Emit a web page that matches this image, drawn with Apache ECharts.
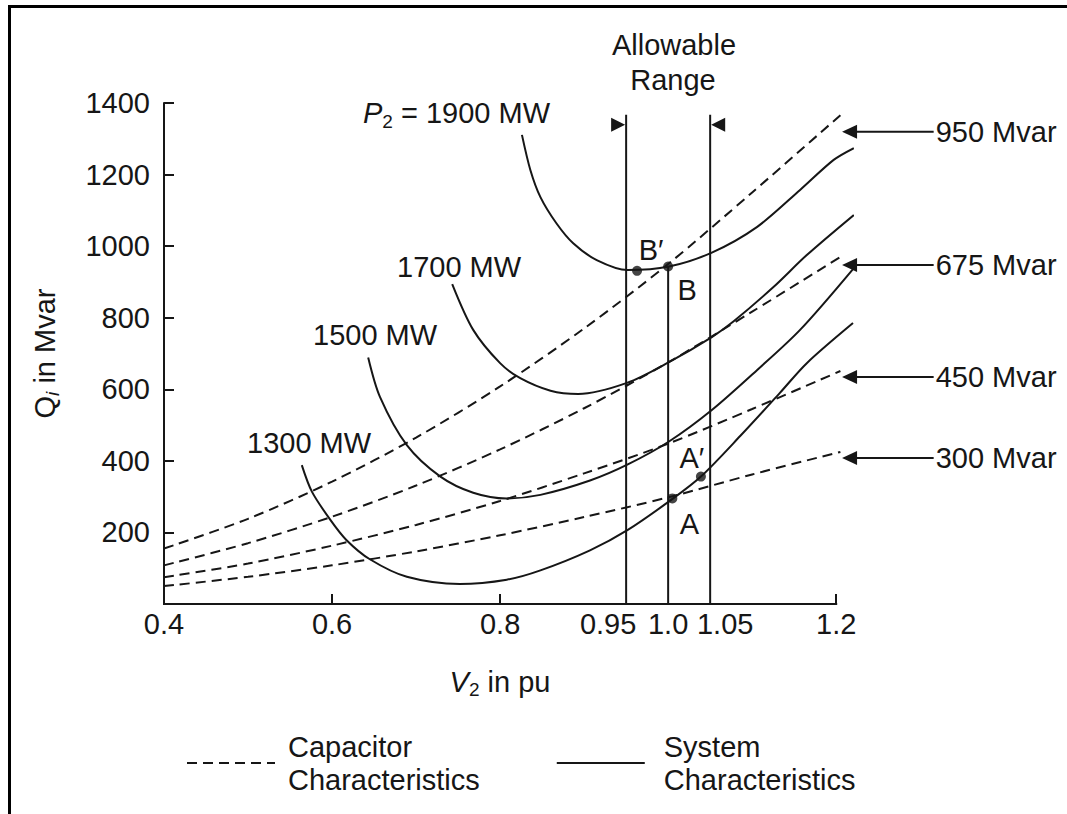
<!DOCTYPE html>
<html>
<head>
<meta charset="utf-8">
<script src="https://cdn.jsdelivr.net/npm/echarts@6/dist/echarts.min.js"></script>
<style>
html,body{margin:0;padding:0;background:#fff;}
#chart{width:1067px;height:814px;}
</style>
</head>
<body>
<div id="chart"></div>
<script>
// ---------- data ----------
const xTicks = [0.4, 0.6, 0.8, 0.95, 1.0, 1.05, 1.2];
const xTickMarks = [0.6, 0.8, 1.2];
const yTicks = [200, 400, 600, 800, 1000, 1200, 1400];
const xAxisEnd = 1.2;

// capacitor characteristics (dashed)
const capV   = [0.4, 0.5, 0.6, 0.7, 0.8, 0.9, 1.0, 1.1, 1.205];
const cap950 = [155, 238, 342, 465, 608, 770, 950, 1150, 1366];
const cap675 = [108, 170, 244, 331, 432, 547, 675, 817, 970];
const cap450 = [75, 113, 163, 221, 288, 365, 448, 545, 651];
const cap300 = [50, 76, 108, 147, 192, 243, 298, 362, 425];
const capLabels = ['950 Mvar', '675 Mvar', '450 Mvar', '300 Mvar'];
const capArrowQ = [1320, 947, 634, 408];

// system characteristics (solid)
const sys1900V = [0.826, 0.836, 0.848, 0.867, 0.887, 0.915, 0.952, 1.001, 1.052, 1.106, 1.157, 1.197, 1.221];
const sys1900Q = [1311, 1213, 1137, 1064, 1008, 961, 933, 943, 982, 1054, 1157, 1241, 1274];
const sys1700V = [0.743, 0.768, 0.8, 0.824, 0.86, 0.893, 0.951, 1.001, 1.052, 1.078, 1.125, 1.165, 1.221];
const sys1700Q = [894, 766, 673, 631, 596, 587, 618, 676, 746, 790, 885, 975, 1087];
const sys1500V = [0.643, 0.657, 0.689, 0.729, 0.768, 0.808, 0.848, 0.907, 0.952, 1.001, 1.052, 1.106, 1.157, 1.22];
const sys1500Q = [689, 579, 444, 356, 311, 295, 305, 345, 390, 454, 542, 654, 766, 936];
const sys1300V = [0.564, 0.576, 0.598, 0.617, 0.645, 0.689, 0.752, 0.808, 0.848, 0.907, 0.952, 1.006, 1.039, 1.086, 1.133, 1.165, 1.22];
const sys1300Q = [388, 314, 235, 179, 125, 76, 56, 68, 94, 150, 207, 295, 356, 470, 590, 673, 785];

// allowable range lines
const allowV   = [0.95, 1.0, 1.05];
const allowTop = [1367, 943, 1367];
const markerQ  = 1339;

// operating points
const pointNames = ['B\u2032', 'B', 'A', 'A\u2032'];
const pointV = [0.963, 1.0, 1.005, 1.039];
const pointQ = [931, 943, 295, 356];

// ---------- helpers ----------
const INK = '#161616';
const FONT = '"Liberation Sans", Arial, Helvetica, sans-serif';
const FS = 29;
const SUB = 19;
function pairs(xs, ys) { return xs.map((x, i) => [x, ys[i]]); }

const CAP_NAME = 'Capacitor\nCharacteristics';
const SYS_NAME = 'System\nCharacteristics';

function capSeries(vals) {
  return {
    type: 'line', name: CAP_NAME, data: pairs(capV, vals), smooth: 0.3,
    symbol: 'none', showSymbol: false, clip: false, silent: true,
    lineStyle: { color: INK, width: 2, type: [10, 6] }, itemStyle: { color: INK }
  };
}
function sysSeries(xs, ys) {
  return {
    type: 'line', name: SYS_NAME, data: pairs(xs, ys), smooth: 0.3,
    symbol: 'none', showSymbol: false, clip: false, silent: true,
    lineStyle: { color: INK, width: 2, type: 'solid' }, itemStyle: { color: INK }
  };
}

const pointLabelOffsets = [[14, -21], [19, 23], [17, 26], [-9, -19]];

const chart = echarts.init(document.getElementById('chart'), null, { renderer: 'svg' });
const option = {
  animation: false,
  backgroundColor: '#fff',
  textStyle: { fontFamily: FONT, color: INK },
  // x scale runs a little past 1.2 so the curve ends (which overshoot 1.2) are drawn
  grid: { left: 164, right: 214, top: 103, bottom: 210 },
  xAxis: {
    type: 'value', min: 0.4, max: 1.22,
    name: '{v|V}{s|2}{n| in pu}', nameLocation: 'middle', nameGap: 60,
    nameTextStyle: {
      padding: [0, 17, 0, 0],
      rich: {
        v: { fontSize: FS, fontStyle: 'italic', fontFamily: FONT, color: INK },
        s: { fontSize: SUB, fontFamily: FONT, color: INK, padding: [16, 0, 0, 0] },
        n: { fontSize: FS, fontFamily: FONT, color: INK }
      }
    },
    axisLine: { show: false },
    axisTick: { show: true, inside: true, length: 10, customValues: xTickMarks, lineStyle: { color: INK, width: 2 } },
    axisLabel: {
      customValues: xTicks, margin: 5, fontSize: FS, fontFamily: FONT, color: INK,
      formatter: function (v) {
        if (Math.abs(v - 0.95) < 1e-6) return '{l|0.95}';
        if (Math.abs(v - 1.05) < 1e-6) return '{r|1.05}';
        if (Math.abs(v - 1.0) < 1e-6) return '1.0';
        return String(v);
      },
      rich: {
        l: { fontSize: FS, fontFamily: FONT, color: INK, padding: [0, 36, 0, 0] },
        r: { fontSize: FS, fontFamily: FONT, color: INK, padding: [0, 0, 0, 30] }
      }
    },
    splitLine: { show: false }
  },
  yAxis: {
    type: 'value', min: 0, max: 1400, interval: 200,
    name: '{q|Q}{s|i}{n| in Mvar}', nameLocation: 'middle', nameGap: 102,
    nameTextStyle: {
      rich: {
        q: { fontSize: FS, fontFamily: FONT, color: INK },
        s: { fontSize: SUB, fontStyle: 'italic', fontFamily: FONT, color: INK, padding: [16, 0, 0, 0] },
        n: { fontSize: FS, fontFamily: FONT, color: INK }
      }
    },
    axisLine: { show: true, lineStyle: { color: INK, width: 2 } },
    axisTick: { show: true, inside: true, length: 10, customValues: yTicks, lineStyle: { color: INK, width: 2 } },
    axisLabel: {
      customValues: yTicks, margin: 14, fontSize: FS, fontFamily: FONT, color: INK,
      formatter: function (v) { return String(v); }
    },
    splitLine: { show: false }
  },
  legend: {
    left: 186, top: 730, padding: 0, orient: 'horizontal', selectedMode: false,
    itemWidth: 88, itemHeight: 14, itemGap: 76,
    itemStyle: { opacity: 0 },
    data: [
      { name: CAP_NAME, textStyle: { padding: [0, 0, 0, 8] } },
      { name: SYS_NAME, textStyle: { padding: [0, 0, 0, 14] } }
    ],
    textStyle: { fontSize: FS, fontFamily: FONT, color: INK, lineHeight: 33 }
  },
  series: [
    capSeries(cap950), capSeries(cap675), capSeries(cap450), capSeries(cap300),
    sysSeries(sys1900V, sys1900Q), sysSeries(sys1700V, sys1700Q),
    sysSeries(sys1500V, sys1500Q), sysSeries(sys1300V, sys1300Q),
    {
      // x axis line, from 0.4 to 1.2
      type: 'custom', clip: false, silent: true,
      data: [[0.4, 0, xAxisEnd]],
      renderItem: function (params, api) {
        const a = api.coord([api.value(0), api.value(1)]);
        const b = api.coord([api.value(2), api.value(1)]);
        return { type: 'line', shape: { x1: a[0] - 1, y1: a[1], x2: b[0] + 1, y2: b[1] },
                 style: { stroke: INK, lineWidth: 2 } };
      }
    },
    {
      // allowable range vertical lines
      type: 'custom', clip: false, silent: true,
      data: allowV.map((v, i) => [v, allowTop[i]]),
      renderItem: function (params, api) {
        const top = api.coord([api.value(0), api.value(1)]);
        const bot = api.coord([api.value(0), 0]);
        return { type: 'line', shape: { x1: top[0], y1: top[1], x2: bot[0], y2: bot[1] },
                 style: { stroke: INK, lineWidth: 2 } };
      }
    },
    {
      // range boundary markers (triangles)
      type: 'custom', clip: false, silent: true,
      data: [[allowV[0], markerQ, 1], [allowV[2], markerQ, -1]],
      renderItem: function (params, api) {
        const p = api.coord([api.value(0), api.value(1)]);
        const d = api.value(2);
        const tipX = p[0] - d * 1;
        const baseX = tipX - d * 14;
        return { type: 'polygon', shape: { points: [[tipX, p[1]], [baseX, p[1] - 7], [baseX, p[1] + 7]] },
                 style: { fill: INK } };
      }
    },
    {
      // capacitor rating arrows on the right
      type: 'custom', clip: false, silent: true,
      data: capArrowQ.map((q, i) => [1.21, q, i]),
      renderItem: function (params, api) {
        const q = api.value(1);
        const tip = api.coord([1.207, q]);
        const tail = api.coord([1.316, q]);
        const label = capLabels[api.value(2)];
        return { type: 'group', children: [
          { type: 'line', shape: { x1: tip[0] + 10, y1: tip[1], x2: tail[0], y2: tail[1] },
            style: { stroke: INK, lineWidth: 2 } },
          { type: 'polygon', shape: { points: [[tip[0], tip[1]], [tip[0] + 15, tip[1] - 7], [tip[0] + 15, tip[1] + 7]] },
            style: { fill: INK } },
          { type: 'text', x: tail[0] + 2, y: tail[1],
            style: { text: label, font: FS + 'px ' + FONT, fill: INK, verticalAlign: 'middle', align: 'left' } }
        ] };
      }
    },
    {
      type: 'scatter', silent: true, symbol: 'circle', symbolSize: 10, clip: false,
      itemStyle: { color: INK },
      data: pointV.map((v, i) => ({
        value: [v, pointQ[i]],
        label: { show: true, formatter: pointNames[i], position: 'inside', offset: pointLabelOffsets[i],
                 fontSize: FS, fontFamily: FONT, color: INK, opacity: 1,
                 textBorderWidth: 0, textBorderColor: 'transparent' }
      }))
    }
  ],
  graphic: [
    { type: 'line', shape: { x1: 8, y1: 6.5, x2: 1067, y2: 6.5 }, style: { stroke: '#000', lineWidth: 3 } },
    { type: 'line', shape: { x1: 9.5, y1: 5, x2: 9.5, y2: 814 }, style: { stroke: '#000', lineWidth: 3 } },
    { type: 'text', x: 674, y: 45, style: { text: 'Allowable', font: FS + 'px ' + FONT, fill: INK, align: 'center', verticalAlign: 'middle' } },
    { type: 'text', x: 673, y: 80, style: { text: 'Range', font: FS + 'px ' + FONT, fill: INK, align: 'center', verticalAlign: 'middle' } },
    { type: 'text', x: 363, y: 113, style: {
        text: '{p|P}{s|2}{n| = 1900 MW}', align: 'left', verticalAlign: 'middle',
        rich: {
          p: { fontSize: FS, fontStyle: 'italic', fontFamily: FONT, fill: INK },
          s: { fontSize: SUB, fontFamily: FONT, fill: INK, padding: [16, 0, 0, 0] },
          n: { fontSize: FS, fontFamily: FONT, fill: INK }
        } } },
    { type: 'text', x: 397, y: 267, style: { text: '1700 MW', font: FS + 'px ' + FONT, fill: INK, verticalAlign: 'middle' } },
    { type: 'text', x: 313, y: 335, style: { text: '1500 MW', font: FS + 'px ' + FONT, fill: INK, verticalAlign: 'middle' } },
    { type: 'text', x: 247, y: 443, style: { text: '1300 MW', font: FS + 'px ' + FONT, fill: INK, verticalAlign: 'middle' } }
  ]
};
chart.setOption(option);
</script>
</body>
</html>
